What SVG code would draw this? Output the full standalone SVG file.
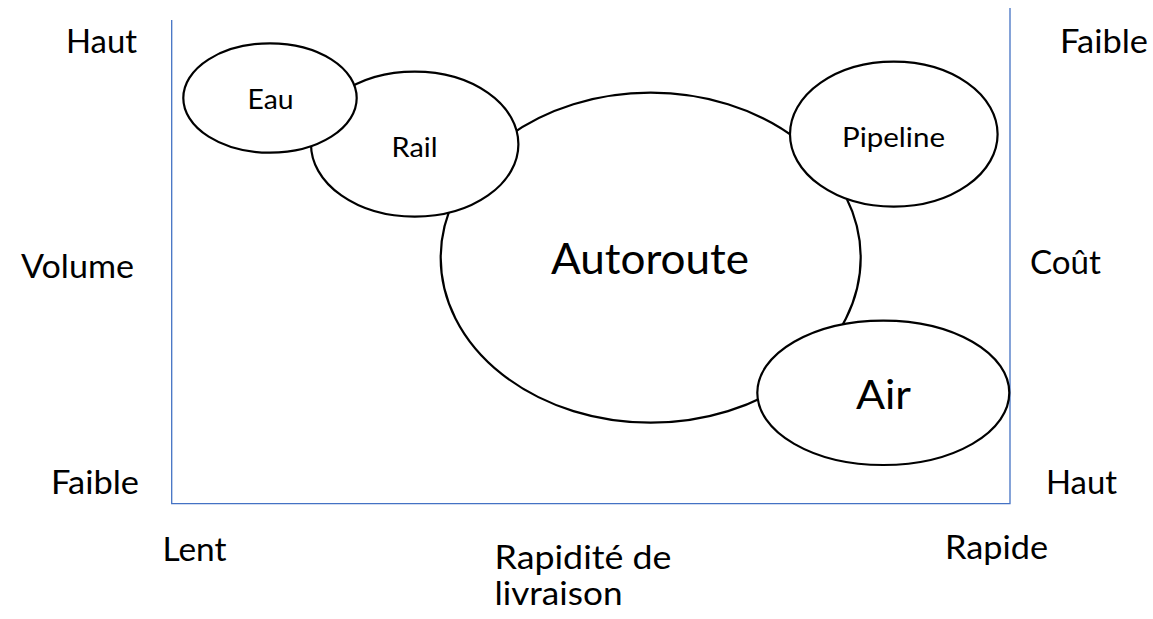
<svg xmlns="http://www.w3.org/2000/svg" width="1153" height="619" viewBox="0 0 1153 619">
  <style>
    text { font-family: Lato, "Open Sans", "Liberation Sans", sans-serif; fill: #000; }
    .lbl { font-size: 32px; }
    .small { font-size: 27px; }
    .bubble { fill: #fff; stroke: #000; stroke-width: 2.2; }
    .axis { fill: none; stroke: #4472C4; stroke-width: 1.3; }
  </style>
  <rect width="1153" height="619" fill="#fff"/>

  <!-- chart frame -->
  <g id="axes">
    <path class="axis" d="M1010,8 V503.7 H171.7 V20"/>
  </g>

  <!-- axis labels -->
  <g id="labels">
    <text class="lbl" x="66" y="53.3" textLength="71" lengthAdjust="spacingAndGlyphs">Haut</text>
    <text class="lbl" x="21" y="278" textLength="113" lengthAdjust="spacingAndGlyphs">Volume</text>
    <text class="lbl" x="51" y="494.3" textLength="88" lengthAdjust="spacingAndGlyphs">Faible</text>
    <text class="lbl" x="1060" y="53.3" textLength="88" lengthAdjust="spacingAndGlyphs">Faible</text>
    <text class="lbl" x="1030" y="274" textLength="71" lengthAdjust="spacingAndGlyphs">Coût</text>
    <text class="lbl" x="1046" y="494.3" textLength="71" lengthAdjust="spacingAndGlyphs">Haut</text>
    <text class="lbl" x="162.5" y="560.7" textLength="64" lengthAdjust="spacingAndGlyphs">Lent</text>
    <text class="lbl" x="945" y="559.3" textLength="103" lengthAdjust="spacingAndGlyphs">Rapide</text>
    <text class="lbl" x="494.5" y="569.3" textLength="177" lengthAdjust="spacingAndGlyphs">Rapidité de</text>
    <text class="lbl" x="494.5" y="605" textLength="128" lengthAdjust="spacingAndGlyphs">livraison</text>
  </g>

  <!-- transport modes -->
  <g id="autoroute">
    <ellipse class="bubble" cx="650.7" cy="257.7" rx="210" ry="165"/>
    <text x="551" y="274" font-size="43" textLength="198" lengthAdjust="spacingAndGlyphs">Autoroute</text>
  </g>
  <g id="rail">
    <ellipse class="bubble" cx="414.7" cy="144.2" rx="103.7" ry="72.5"/>
    <text class="small" x="391.5" y="156.7" textLength="46" lengthAdjust="spacingAndGlyphs">Rail</text>
  </g>
  <g id="eau">
    <ellipse class="bubble" cx="270" cy="98" rx="86.7" ry="54.7"/>
    <text class="small" x="247.5" y="109.3" textLength="46" lengthAdjust="spacingAndGlyphs">Eau</text>
  </g>
  <g id="pipeline">
    <ellipse class="bubble" cx="893.8" cy="134.2" rx="103.8" ry="72.5"/>
    <text class="small" x="842" y="146.7" textLength="103" lengthAdjust="spacingAndGlyphs">Pipeline</text>
  </g>
  <g id="air">
    <ellipse class="bubble" cx="883.3" cy="392.8" rx="126" ry="72.2"/>
    <text x="856" y="409.3" font-size="41" textLength="55" lengthAdjust="spacingAndGlyphs">Air</text>
  </g>
</svg>
